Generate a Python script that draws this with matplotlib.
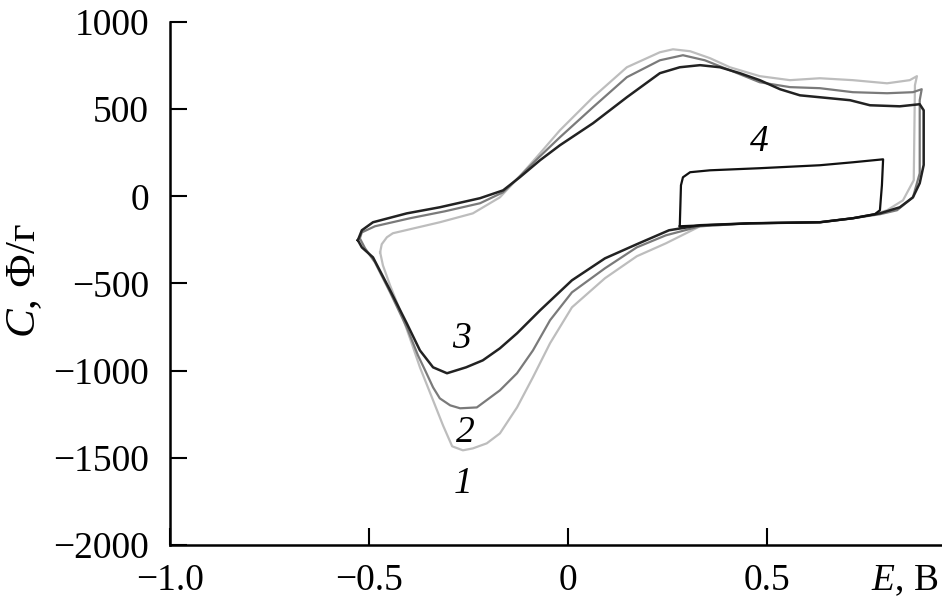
import matplotlib
matplotlib.use("Agg")
import matplotlib.pyplot as plt

plt.rcParams['font.family'] = ['Liberation Serif', 'DejaVu Serif']
plt.rcParams['mathtext.fontset'] = 'custom'
plt.rcParams['mathtext.rm'] = 'Liberation Serif'
plt.rcParams['mathtext.it'] = 'Liberation Serif:italic'

# кривая 3 (чёрная): E, В / C, Ф/г
e3 = [-0.528, -0.518, -0.490, -0.405, -0.322, -0.221, -0.163, -0.121, -0.070, -0.020,
      0.063, 0.148, 0.231, 0.281, 0.332, 0.382, 0.432, 0.482, 0.533, 0.583,
      0.633, 0.709, 0.759, 0.834, 0.884, 0.894, 0.894, 0.884, 0.867, 0.834,
      0.784, 0.716, 0.633, 0.457, 0.332, 0.254, 0.173, 0.093, 0.010, -0.070,
      -0.128, -0.171, -0.214, -0.256, -0.304, -0.339, -0.372, -0.405, -0.447, -0.490,
      -0.518, -0.528]
c3 = [-252, -195, -149, -98, -63, -11, 34, 109, 207, 293,
      419, 568, 706, 740, 752, 740, 706, 666, 614, 579,
      568, 551, 522, 516, 528, 493, 180, 75, -6, -63,
      -98, -126, -149, -155, -166, -195, -275, -356, -482, -654,
      -786, -872, -941, -981, -1015, -981, -884, -729, -539, -350,
      -293, -252]

# кривая 2 (серая)
e2 = [-0.523, -0.518, -0.485, -0.397, -0.309, -0.221, -0.163, -0.121, -0.070, -0.020,
      0.063, 0.148, 0.231, 0.289, 0.344, 0.407, 0.482, 0.558, 0.633, 0.716,
      0.802, 0.867, 0.889, 0.884, 0.884, 0.867, 0.827, 0.784, 0.716, 0.633,
      0.457, 0.332, 0.246, 0.173, 0.093, 0.010, -0.045, -0.088, -0.128, -0.171,
      -0.229, -0.271, -0.296, -0.322, -0.339, -0.359, -0.377, -0.405, -0.447, -0.485,
      -0.510, -0.523]
c2 = [-241, -207, -172, -126, -86, -40, 23, 115, 230, 339,
      511, 683, 780, 809, 780, 723, 654, 626, 620, 597,
      591, 597, 614, 551, 132, -6, -80, -103, -126, -149,
      -155, -172, -224, -293, -413, -551, -711, -884, -1015, -1113,
      -1211, -1216, -1199, -1159, -1096, -998, -912, -752, -551, -379,
      -298, -241]

# кривая 1 (светло-серая)
e1 = [-0.472, -0.468, -0.455, -0.440, -0.322, -0.239, -0.171, -0.121, -0.070, -0.020, 0.063,
      0.148, 0.231, 0.264, 0.307, 0.357, 0.407, 0.482, 0.558, 0.633, 0.716,
      0.802, 0.859, 0.877, 0.872, 0.869, 0.842, 0.802, 0.771, 0.716, 0.633,
      0.457, 0.332, 0.246, 0.173, 0.093, 0.010, -0.045, -0.088, -0.128, -0.171,
      -0.204, -0.239, -0.264, -0.291, -0.314, -0.339, -0.372, -0.397, -0.422, -0.447,
      -0.465, -0.472]
c1 = [-321, -275, -235, -212, -149, -98, -6, 115, 247, 379, 568,
      740, 826, 843, 832, 792, 740, 689, 666, 677, 666,
      648, 666, 689, 637, 92, -23, -80, -103, -126, -149,
      -155, -172, -270, -344, -470, -637, -843, -1038, -1211, -1360,
      -1417, -1446, -1457, -1434, -1314, -1170, -981, -815, -654, -511,
      -396, -321]

# кривая 4 (узкий диапазон)
e4 = [0.281, 0.284, 0.289, 0.307, 0.357, 0.482, 0.633, 0.716, 0.792, 0.789,
      0.784, 0.771, 0.716, 0.633, 0.457, 0.281]
c4 = [-172, 63, 109, 138, 149, 161, 178, 195, 212, 63,
      -80, -103, -126, -149, -155, -172]

x_ticks = [-1.0, -0.5, 0, 0.5]
x_labels = ['\u22121.0', '\u22120.5', '0', '0.5']
y_ticks = [1000, 500, 0, -500, -1000, -1500, -2000]
y_labels = ['1000', '500', '0', '\u2212500', '\u22121000', '\u22121500', '\u22122000']

curve_names = ['1', '2', '3', '4']
name_e = [-0.264, -0.259, -0.268, 0.482]
name_c = [-1650, -1354, -818, 310]

fig = plt.figure(figsize=(9.42, 6.04), dpi=100)
ax = fig.add_axes([0.1805, 0.0977, 0.8195, 0.866])

ax.plot(e1, c1, color='#bdbdbd', lw=1.6)
ax.plot(e2, c2, color='#7a7a7a', lw=1.6)
ax.plot(e3, c3, color='#222222', lw=1.8)
ax.plot(e4, c4, color='#111111', lw=1.6)

for name, xe, yc in zip(curve_names, name_e, name_c):
    ax.text(xe, yc, name, fontsize=27, style='italic', ha='center', va='center')

ax.set_xlim(-1.0, 0.94)
ax.set_ylim(-2000, 1000)
ax.set_xticks(x_ticks)
ax.set_xticklabels(x_labels)
ax.set_yticks(y_ticks)
ax.set_yticklabels(y_labels)
ax.tick_params(direction='in', length=12, width=1.5, labelsize=27)
ax.tick_params(axis='x', pad=13)
ax.tick_params(axis='y', pad=15)

ax.spines['top'].set_visible(False)
ax.spines['right'].set_visible(False)
ax.spines['left'].set_linewidth(1.8)
ax.spines['bottom'].set_linewidth(1.8)

ax.set_xlabel(r'$E$, В', fontsize=27)
ax.xaxis.set_label_coords(0.952, -0.069)
ax.xaxis.label.set_va('center')
ax.set_ylabel(r'$C$, Ф/г', fontsize=31)
ax.yaxis.set_label_coords(-0.188, 0.505)
ax.yaxis.label.set_va('center')

plt.savefig('out.png', dpi=100)
